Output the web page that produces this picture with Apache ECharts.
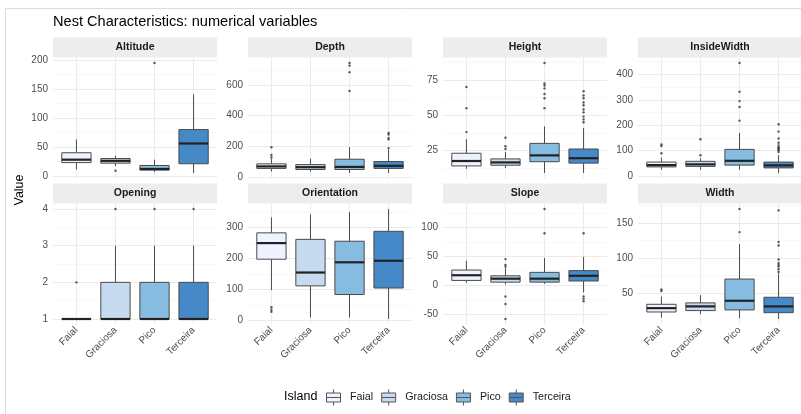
<!DOCTYPE html>
<html>
<head>
<meta charset="utf-8">
<script src="https://cdn.jsdelivr.net/npm/echarts@6/dist/echarts.min.js"></script>
<style>
  html, body { margin: 0; padding: 0; background: #ffffff; }
  #chart { width: 801px; height: 414px; }
</style>
</head>
<body>
<div id="chart"></div>
<script>
// ---- data --------------------------------------------------------------
const islands = ['Faial', 'Graciosa', 'Pico', 'Terceira'];
const variables = ['Altitude', 'Depth', 'Height', 'InsideWidth', 'Opening', 'Orientation', 'Slope', 'Width'];

// box summaries per island: [lower whisker, Q1, median, Q3, upper whisker]
const altitudeBoxes = [[11, 23, 28, 40, 63], [17, 22, 26, 30, 35], [7, 10, 12, 18, 28], [5, 21, 56, 80, 141]];
const altitudeOutliers = [[], [9], [195], []];
const altitudeTicks = [0, 50, 100, 150, 200];

const depthBoxes = [[35, 55, 68, 85, 118], [35, 48, 63, 80, 118], [25, 48, 65, 115, 195], [25, 55, 72, 100, 180]];
const depthOutliers = [[126, 143, 194], [], [562, 685, 728, 745], [188, 245, 255, 277, 287]];
const depthTicks = [0, 200, 400, 600];

const heightBoxes = [[12, 14, 17.5, 23, 33], [12.5, 14.5, 16.5, 19, 24], [9, 17, 21.5, 30, 42], [9, 16, 19.5, 26, 41]];
const heightOutliers = [[38, 55, 70], [26, 28, 34], [55, 62, 65, 69, 71, 72.5, 87], [45, 47, 49, 52, 54, 57, 59, 62, 64, 67]];
const heightTicks = [25, 50, 75];

const insideWidthBoxes = [[25, 36, 43, 55, 73], [25, 38, 46, 58, 70], [25, 43, 60, 105, 170], [12, 32, 42, 55, 82]];
const insideWidthOutliers = [[90, 118, 124], [82, 145], [218, 272, 295, 332, 445], [95, 102, 106, 110, 113, 120, 131, 148, 175, 204]];
const insideWidthTicks = [0, 100, 200, 300, 400];

const openingBoxes = [[1, 1, 1, 1, 1], [1, 1, 1, 2, 3], [1, 1, 1, 2, 3], [1, 1, 1, 2, 3]];
const openingOutliers = [[2], [4], [4], [4]];
const openingTicks = [1, 2, 3, 4];

const orientationBoxes = [[98, 198, 250, 283, 333], [10, 112, 155, 262, 343], [10, 84, 188, 256, 350], [5, 105, 193, 288, 360]];
const orientationOutliers = [[28, 35, 43], [], [], []];
const orientationTicks = [0, 100, 200, 300];

const slopeBoxes = [[4, 8, 17, 26, 42], [1, 5, 11, 16, 30], [2, 5, 11, 22, 47], [-13, 7, 16, 25, 49]];
const slopeOutliers = [[], [-59, -33, -20, 32, 35, 45], [90, 132], [-28, -24, -20, 90]];
const slopeTicks = [-50, 0, 50, 100];

const widthBoxes = [[15, 23, 28.5, 34, 45], [20, 25, 31, 36, 47], [14, 26, 39, 70, 120], [13, 22, 31, 44, 78]];
const widthOutliers = [[53, 55], [], [137, 170], [80, 84, 88, 90, 93, 98, 118, 123, 168]];
const widthTicks = [50, 100, 150];

const panelBoxes = [altitudeBoxes, depthBoxes, heightBoxes, insideWidthBoxes, openingBoxes, orientationBoxes, slopeBoxes, widthBoxes];
const panelOutliers = [altitudeOutliers, depthOutliers, heightOutliers, insideWidthOutliers, openingOutliers, orientationOutliers, slopeOutliers, widthOutliers];
const panelTicks = [altitudeTicks, depthTicks, heightTicks, insideWidthTicks, openingTicks, orientationTicks, slopeTicks, widthTicks];

// ---- layout & style ----------------------------------------------------
const FONT = '"Liberation Sans", Arial, sans-serif';
const islandColors = ['#EFF3FF', '#C6DBEF', '#85BCE0', '#4689C8'];
const lineColor = '#4A4A4A';
const medianColor = '#222222';
const gridColor = '#EBEBEB';
const minorGridColor = '#F4F4F4';
const stripColor = '#EDEDED';

const colLeft = [53, 248, 443, 638];
const rowTop = [57.5, 203.5];
const panelW = 164, panelH = 121, stripH = 20;
const boxWidth = 0.75;                 // in category units
const xPositions = [1, 2, 3, 4];       // island slots on each panel's x scale

// one box with whiskers and a heavier median bar
function renderBox(params, api) {
  const x = api.value(0);
  const lo = api.coord([x, api.value(1)]);
  const q1 = api.coord([x, api.value(2)]);
  const med = api.coord([x, api.value(3)]);
  const q3 = api.coord([x, api.value(4)]);
  const hi = api.coord([x, api.value(5)]);
  const half = api.size([boxWidth, 0])[0] / 2;
  const fill = api.visual('color');
  return {
    type: 'group',
    children: [
      { type: 'line', shape: { x1: lo[0], y1: lo[1], x2: q1[0], y2: q1[1] }, style: { stroke: lineColor, lineWidth: 1 } },
      { type: 'line', shape: { x1: q3[0], y1: q3[1], x2: hi[0], y2: hi[1] }, style: { stroke: lineColor, lineWidth: 1 } },
      { type: 'rect', shape: { x: q3[0] - half, y: q3[1], width: half * 2, height: Math.max(q1[1] - q3[1], 0.01) },
        style: { fill: fill, stroke: lineColor, lineWidth: 1 } },
      { type: 'line', shape: { x1: med[0] - half, y1: med[1], x2: med[0] + half, y2: med[1] },
        style: { stroke: medianColor, lineWidth: 2.2 } }
    ]
  };
}

const grids = [], xAxes = [], yAxes = [], series = [], graphics = [];

variables.forEach(function (name, p) {
  const col = p % 4, row = Math.floor(p / 4);
  const left = colLeft[col], top = rowTop[row];
  const boxes = panelBoxes[p], outs = panelOutliers[p], ticks = panelTicks[p];

  // continuous range of the panel, padded by 5% each side
  const all = boxes.flat().concat(outs.flat());
  const lo = Math.min.apply(null, all), hi = Math.max.apply(null, all);
  const pad = (hi - lo) * 0.05;
  const yMin = lo - pad, yMax = hi + pad;

  // minor gridlines halfway between the labelled breaks
  const step = ticks[1] - ticks[0];
  const minors = [];
  for (let v = ticks[0] - step / 2; v <= ticks[ticks.length - 1] + step; v += step) {
    if (v >= yMin && v <= yMax) minors.push(v);
  }

  grids.push({ left: left, top: top, width: panelW, height: panelH, containLabel: false, outerBoundsMode: 'none' });

  xAxes.push({
    type: 'value', gridIndex: p, min: 0.4, max: 4.6,
    axisLine: { show: false },
    axisTick: { show: false, customValues: xPositions },
    axisLabel: {
      show: row === 1, customValues: xPositions, rotate: 45, margin: 4,
      formatter: function (v) { return islands[Math.round(v) - 1]; },
      color: '#4D4D4D', fontSize: 10, fontFamily: FONT
    },
    splitLine: { show: true, lineStyle: { color: gridColor, width: 1 } }
  });

  yAxes.push({
    type: 'value', gridIndex: p, min: yMin, max: yMax,
    axisLine: { show: false },
    axisTick: { show: false, customValues: ticks },
    axisLabel: { customValues: ticks, margin: 5, color: '#4D4D4D', fontSize: 10, fontFamily: FONT },
    splitLine: { show: true, lineStyle: { color: gridColor, width: 1 } }
  });
  yAxes.push({
    type: 'value', gridIndex: p, min: yMin, max: yMax, position: 'left',
    axisLine: { show: false },
    axisTick: { show: false, customValues: minors },
    axisLabel: { show: false },
    splitLine: { show: true, lineStyle: { color: minorGridColor, width: 0.6 } }
  });

  islands.forEach(function (isl, k) {
    series.push({
      type: 'custom', name: isl, xAxisIndex: p, yAxisIndex: 2 * p,
      renderItem: renderBox,
      itemStyle: { color: islandColors[k] },
      encode: { x: 0, y: [1, 2, 3, 4, 5] },
      data: [[xPositions[k]].concat(boxes[k])],
      silent: true, z: 2
    });
  });

  const outPts = [];
  outs.forEach(function (arr, k) { arr.forEach(function (v) { outPts.push([xPositions[k], v]); }); });
  series.push({
    type: 'scatter', name: 'outliers', xAxisIndex: p, yAxisIndex: 2 * p,
    data: outPts, symbol: 'circle', symbolSize: 2.4,
    itemStyle: { color: '#333333' }, silent: true, z: 3
  });

  // facet strip
  graphics.push({
    type: 'rect', silent: true, z: 0,
    shape: { x: left, y: top - stripH, width: panelW, height: stripH },
    style: { fill: stripColor }
  });
  graphics.push({
    type: 'text', silent: true, z: 1,
    x: left + panelW / 2, y: top - stripH / 2,
    style: { text: name, align: 'center', verticalAlign: 'middle', fontSize: 10.5, fontWeight: 'bold', fontFamily: FONT, fill: '#1A1A1A' }
  });
});

// outer frame of the figure
graphics.push({
  type: 'rect', silent: true, z: 0,
  shape: { x: 5.5, y: 8.5, width: 820, height: 420 },
  style: { fill: 'none', stroke: '#DCDCDC', lineWidth: 1 }
});
// shared y-axis title
graphics.push({
  type: 'text', silent: true,
  x: 20, y: 190, rotation: Math.PI / 2,
  style: { text: 'Value', align: 'center', verticalAlign: 'middle', fontSize: 12.5, fontFamily: FONT, fill: '#000000' }
});
// legend title
graphics.push({
  type: 'text', silent: true,
  x: 284, y: 397,
  style: { text: 'Island', align: 'left', verticalAlign: 'middle', fontSize: 12.5, fontFamily: FONT, fill: '#000000' }
});

const keyIcon = 'path://M8 0L8 3.5M1 3.5L15 3.5L15 12.5L1 12.5ZM1 8L15 8M8 12.5L8 16';

const option = {
  animation: false,
  backgroundColor: '#ffffff',
  textStyle: { fontFamily: FONT },
  title: {
    text: 'Nest Characteristics: numerical variables',
    left: 53, top: 14, padding: 0,
    textStyle: { fontSize: 14.6, fontWeight: 'normal', color: '#000000', fontFamily: FONT }
  },
  legend: {
    data: islands.map(function (n) { return { name: n, icon: keyIcon }; }),
    left: 326, top: 389, padding: 0, orient: 'horizontal',
    itemWidth: 15, itemHeight: 16, itemGap: 8, selectedMode: false,
    itemStyle: { borderColor: '#555555', borderWidth: 1 },
    textStyle: { fontSize: 10.7, color: '#1A1A1A', fontFamily: FONT, padding: [0, 0, 0, 4] }
  },
  grid: grids,
  xAxis: xAxes,
  yAxis: yAxes,
  series: series,
  graphic: graphics
};

const chart = echarts.init(document.getElementById('chart'), null, { renderer: 'canvas' });
chart.setOption(option);
</script>
</body>
</html>
